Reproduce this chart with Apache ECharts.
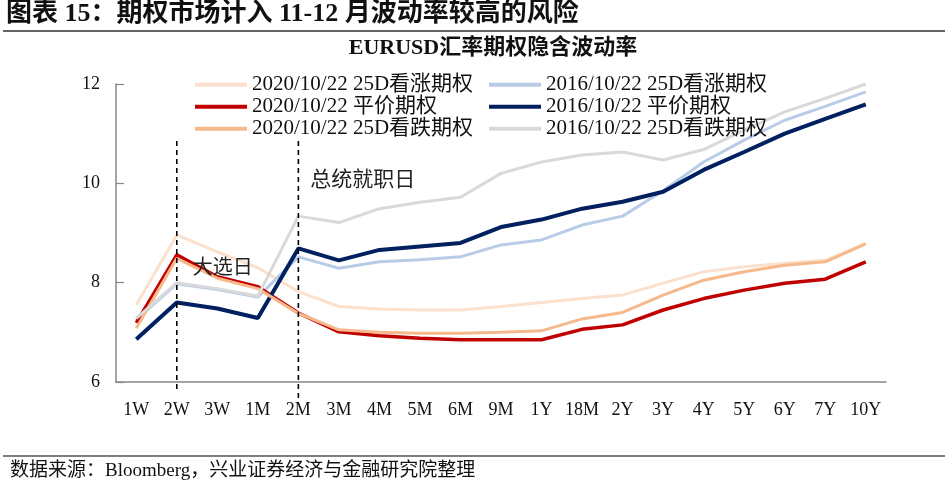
<!DOCTYPE html>
<html>
<head>
<meta charset="utf-8">
<script src="https://cdn.jsdelivr.net/npm/echarts@6/dist/echarts.min.js"></script>
<style>
html,body{margin:0;padding:0;background:#fff;}
#main{width:947px;height:484px;}
</style>
</head>
<body>
<div id="main"></div>
<script>
const categories = ['1W','2W','3W','1M','2M','3M','4M','5M','6M','9M','1Y','18M','2Y','3Y','4Y','5Y','6Y','7Y','10Y'];
const call2020 = [7.55, 8.96, 8.62, 8.30, 7.82, 7.52, 7.47, 7.45, 7.45, 7.52, 7.60, 7.68, 7.75, 7.99, 8.22, 8.32, 8.39, 8.45, 8.79];
const atm2020  = [7.19, 8.56, 8.12, 7.92, 7.39, 7.01, 6.93, 6.88, 6.85, 6.85, 6.85, 7.06, 7.15, 7.45, 7.68, 7.85, 7.99, 8.07, 8.42];
const put2020  = [7.08, 8.49, 8.09, 7.88, 7.38, 7.05, 7.00, 6.98, 6.98, 7.00, 7.03, 7.27, 7.40, 7.75, 8.05, 8.22, 8.35, 8.42, 8.78];
const call2016 = [7.25, 7.98, 7.86, 7.71, 8.52, 8.29, 8.42, 8.46, 8.52, 8.76, 8.86, 9.16, 9.34, 9.85, 10.43, 10.87, 11.27, 11.55, 11.84];
const atm2016  = [6.86, 7.60, 7.48, 7.29, 8.69, 8.45, 8.66, 8.73, 8.80, 9.12, 9.27, 9.49, 9.63, 9.83, 10.27, 10.63, 11.00, 11.30, 11.59];
const put2016  = [7.28, 8.00, 7.88, 7.73, 9.34, 9.21, 9.49, 9.62, 9.72, 10.20, 10.43, 10.57, 10.63, 10.47, 10.68, 11.07, 11.44, 11.71, 12.00];
const yTicks = [6, 8, 10, 12];
const seriesNames = ['2020/10/22 25D看涨期权','2016/10/22 25D看涨期权','2020/10/22 平价期权','2016/10/22 平价期权','2020/10/22 25D看跌期权','2016/10/22 25D看跌期权'];
const eventCats = ['2W', '2M'];
const eventLabels = ['大选日', '总统就职日'];

const SERIF = '"Liberation Serif","Times New Roman","Noto Sans CJK SC",serif';
const chart = echarts.init(document.getElementById('main'), null, {renderer:'canvas'});

function mk(name, data, color, width) {
  return {
    name: name, type: 'line', data: data, symbol: 'none', showSymbol: false,
    lineStyle: {color: color, width: width}, itemStyle: {color: color},
    animation: false
  };
}

const legendCommon = {
  orient: 'vertical', itemWidth: 52, itemHeight: 4, itemGap: 0.5, icon: 'rect',
  textStyle: {fontFamily: SERIF, fontSize: 21, color: '#111', lineHeight: 21.5},
  selectedMode: false, padding: 0
};

chart.setOption({
  animation: false,
  backgroundColor: '#fff',
  grid: {left: 116, right: 61, top: 84, bottom: 102, containLabel: false},
  legend: [
    Object.assign({}, legendCommon, {left: 195, top: 74, data: [seriesNames[0], seriesNames[2], seriesNames[4]]}),
    Object.assign({}, legendCommon, {left: 489, top: 74, data: [seriesNames[1], seriesNames[3], seriesNames[5]]})
  ],
  xAxis: {
    type: 'category', data: categories, boundaryGap: true,
    axisLine: {lineStyle: {color: '#888', width: 1.5}},
    axisTick: {inside: true, length: 7, lineStyle: {color: '#888', width: 1.2}},
    axisLabel: {interval: 0, margin: 19, fontFamily: SERIF, fontSize: 18, color: '#111'}
  },
  yAxis: {
    type: 'value', min: 6, max: 12, interval: 2,
    axisLine: {show: true, lineStyle: {color: '#888', width: 1.5}},
    axisTick: {show: true, inside: true, length: 8, lineStyle: {color: '#888', width: 1.2}},
    splitLine: {show: false},
    axisLabel: {margin: 16, fontFamily: SERIF, fontSize: 18, color: '#111',
      formatter: function(v){ return yTicks.indexOf(v) >= 0 ? String(v) : ''; }}
  },
  series: [
    mk(seriesNames[0], call2020, '#FBE0CE', 3),
    mk(seriesNames[1], call2016, '#B8CCE8', 3),
    mk(seriesNames[2], atm2020, '#C00000', 3.5),
    mk(seriesNames[3], atm2016, '#002060', 4),
    mk(seriesNames[4], put2020, '#F6B98C', 3),
    mk(seriesNames[5], put2016, '#D9D9D9', 3)
  ]
});

// annotations positioned through the chart's own scales
const graphics = [
  {type: 'text', left: 6, top: 1, style: {text: '图表 15：期权市场计入 11-12 月波动率较高的风险', font: 'bold 26px ' + SERIF, fill: '#111'}},
  {type: 'line', shape: {x1: 3, y1: 31, x2: 945, y2: 31}, style: {stroke: '#333', lineWidth: 1.5}},
  {type: 'text', x: 493, y: 48, style: {text: 'EURUSD汇率期权隐含波动率', font: 'bold 22px ' + SERIF, fill: '#111', textAlign: 'center', textVerticalAlign: 'middle'}},
  {type: 'line', shape: {x1: 3, y1: 456, x2: 945, y2: 456}, style: {stroke: '#555', lineWidth: 1.5}},
  {type: 'text', x: 10, y: 471, style: {text: '数据来源：Bloomberg，兴业证券经济与金融研究院整理', font: '19px ' + SERIF, fill: '#111', textVerticalAlign: 'middle'}}
];
const yAxisBottom = chart.convertToPixel({yAxisIndex: 0}, 6);
const yTopDash = chart.convertToPixel({yAxisIndex: 0}, 10.85);
const extraBelow = [10, 17];
const labelVals = [8.33, 10.1];
const labelOffset = [16, 12];
const labelSize = [20, 21];
eventCats.forEach(function(c, i) {
  const x = chart.convertToPixel({xAxisIndex: 0}, categories.indexOf(c));
  graphics.push({type: 'line', z: 10, shape: {x1: x, y1: yTopDash, x2: x, y2: yAxisBottom + extraBelow[i]},
    style: {stroke: '#000', lineWidth: 1.6, lineDash: [5, 4]}});
  graphics.push({type: 'text', z: 11, x: x + labelOffset[i], y: chart.convertToPixel({yAxisIndex: 0}, labelVals[i]),
    style: {text: eventLabels[i], font: labelSize[i] + 'px "Noto Sans CJK SC", sans-serif', fill: '#222', textVerticalAlign: 'middle'}});
});
chart.setOption({graphic: graphics});
</script>
</body>
</html>
